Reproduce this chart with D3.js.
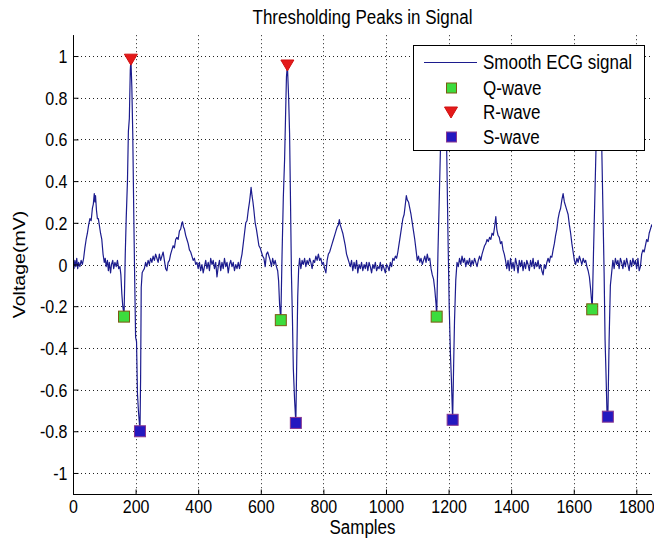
<!DOCTYPE html>
<html>
<head>
<meta charset="utf-8">
<script src="https://cdn.jsdelivr.net/npm/d3@7"></script>
<style>
  html, body { margin: 0; padding: 0; background: #fff; }
  svg { display: block; }
  text { font-family: Arial, "Liberation Sans", sans-serif; fill: #000; }
</style>
</head>
<body>
<svg id="chart" width="654" height="540"></svg>
<script>
// ---- data (sample index, voltage in mV) ----
const ecgSignal = [
  [0,0.01],[3,-0.02],[6,0.02],[9,-0.01],[12,0.03],[15,-0.02],[18,0.01],[22,-0.01],[26,0.02],[30,0.00],
  [34,0.03],[38,0.08],[42,0.12],[46,0.15],[50,0.19],[54,0.22],[58,0.21],[62,0.27],[65,0.29],[68,0.34],
  [70,0.30],[72,0.33],[75,0.26],[78,0.22],[81,0.22],[84,0.19],[88,0.15],[92,0.12],[96,0.05],[100,0.01],
  [103,0.03],[106,-0.01],[110,0.02],[113,-0.03],[116,0.01],[120,-0.04],[123,0.00],[127,0.02],[130,-0.02],
  [134,0.01],[138,-0.01],[142,0.02],[146,-0.02],[150,-0.01],[153,-0.05],[156,-0.14],[159,-0.20],[161,-0.22],
  [163,-0.25],[167,0.05],[170,0.22],[174,0.40],[177,0.64],[180,0.70],[183,0.93],[185,0.985],[188,0.85],
  [191,0.62],[194,0.26],[197,-0.06],[200,-0.35],[203,-0.37],[206,-0.62],[209,-0.70],[214,-0.80],[216,-0.55],
  [218,-0.11],[221,-0.04],[224,-0.03],[228,-0.02],[232,0.01],[236,-0.01],[240,0.02],[244,0.00],[248,0.03],
  [252,0.01],[256,0.04],[260,0.02],[264,0.05],[268,0.03],[272,0.01],[276,0.05],[280,0.02],[284,0.04],
  [288,0.06],[292,0.02],[296,-0.02],[300,-0.03],[304,0.01],[308,0.02],[312,0.05],[316,0.07],[320,0.09],
  [324,0.08],[328,0.12],[332,0.13],[336,0.12],[340,0.16],[344,0.17],[348,0.20],[350,0.205],[353,0.18],
  [356,0.17],[360,0.14],[364,0.12],[368,0.10],[372,0.07],[376,0.06],[380,0.04],[384,0.02],[388,0.03],
  [392,0.00],[396,0.01],[400,-0.02],[404,0.01],[408,-0.03],[412,0.00],[416,-0.04],[420,-0.01],[424,0.02],
  [428,-0.02],[432,0.01],[436,-0.03],[440,0.03],[444,0.00],[448,0.02],[452,-0.02],[456,0.01],[460,-0.06],
  [464,-0.01],[468,0.02],[472,-0.03],[476,0.01],[480,-0.02],[484,0.03],[488,-0.01],[492,0.01],[496,-0.04],
  [500,0.00],[504,0.02],[508,-0.01],[512,0.01],[516,-0.03],[520,0.00],[524,-0.02],[528,0.01],[532,-0.02],
  [536,0.02],[540,0.05],[544,0.10],[548,0.15],[552,0.20],[556,0.21],[560,0.26],[564,0.30],[567,0.34],
  [569,0.37],[572,0.33],[575,0.30],[578,0.26],[582,0.20],[586,0.17],[590,0.13],[594,0.09],[598,0.08],
  [602,0.06],[606,0.04],[610,0.03],[614,-0.01],[618,0.05],[622,0.06],[626,0.04],[630,0.02],[634,-0.01],
  [638,0.03],[642,0.00],[646,0.02],[650,-0.01],[654,-0.03],[657,-0.08],[660,-0.19],[664,-0.267],
  [668,0.05],[672,0.32],[676,0.50],[679,0.70],[682,0.90],[685,0.957],[689,0.80],[692,0.63],[695,0.30],
  [698,-0.05],[701,-0.25],[704,-0.50],[708,-0.65],[712,-0.76],[715,-0.45],[718,-0.155],[721,-0.02],
  [724,0.03],[728,-0.02],[732,0.02],[736,0.00],[740,0.03],[744,-0.01],[748,0.02],[752,0.00],[756,0.03],
  [760,0.01],[764,-0.02],[768,0.02],[772,0.01],[776,0.04],[780,0.02],[784,0.05],[788,0.02],[792,0.03],
  [796,0.00],[800,0.01],[804,-0.02],[808,-0.04],[812,0.02],[816,0.05],[820,0.06],[824,0.08],[828,0.10],
  [832,0.12],[836,0.14],[840,0.16],[844,0.18],[848,0.19],[851,0.215],[854,0.19],[858,0.17],[862,0.15],
  [866,0.12],[870,0.09],[874,0.05],[878,0.03],[882,0.01],[886,-0.01],[890,0.02],[894,-0.03],[898,0.01],
  [902,-0.02],[906,0.02],[910,-0.04],[914,0.00],[918,-0.02],[922,0.01],[926,-0.03],[930,0.00],[934,-0.02],
  [938,0.01],[942,-0.03],[946,0.01],[950,-0.01],[954,-0.04],[958,0.00],[962,-0.02],[966,0.01],[970,-0.03],
  [974,-0.01],[978,-0.02],[982,0.01],[986,-0.03],[990,0.00],[994,-0.02],[998,-0.04],[1002,0.00],[1006,-0.01],
  [1010,-0.03],[1014,0.01],[1018,-0.01],[1022,0.03],[1026,0.02],[1030,0.04],[1034,0.03],[1038,0.06],
  [1042,0.10],[1046,0.14],[1050,0.18],[1054,0.22],[1058,0.24],[1062,0.29],[1065,0.33],[1068,0.31],
  [1072,0.30],[1076,0.27],[1080,0.24],[1084,0.20],[1088,0.16],[1092,0.12],[1096,0.07],[1100,0.02],
  [1104,0.04],[1108,0.01],[1112,0.03],[1116,0.00],[1120,0.02],[1124,0.04],[1128,0.01],[1132,0.05],
  [1136,0.02],[1140,0.03],[1144,-0.02],[1148,-0.05],[1152,-0.07],[1156,-0.12],[1160,-0.19],[1162,-0.25],
  [1166,0.05],[1170,0.30],[1174,0.55],[1178,0.78],[1182,0.93],[1186,0.97],[1190,0.85],[1194,0.55],
  [1198,0.15],[1202,-0.20],[1206,-0.43],[1209,-0.55],[1213,-0.745],[1216,-0.50],[1219,-0.27],[1223,-0.075],
  [1227,0.01],[1231,-0.01],[1235,0.03],[1239,0.00],[1243,0.04],[1247,0.01],[1251,0.03],[1255,-0.01],
  [1259,0.02],[1263,0.00],[1267,0.03],[1271,-0.01],[1275,0.02],[1279,0.00],[1283,0.03],[1287,0.01],
  [1291,-0.01],[1295,0.02],[1299,0.04],[1303,0.02],[1307,0.05],[1311,0.07],[1315,0.09],[1319,0.10],
  [1323,0.12],[1327,0.11],[1331,0.13],[1335,0.12],[1339,0.15],[1343,0.14],[1347,0.18],[1351,0.23],
  [1354,0.17],[1358,0.14],[1362,0.13],[1366,0.10],[1370,0.11],[1374,0.07],[1378,0.05],[1382,0.02],
  [1386,-0.02],[1390,0.02],[1394,-0.03],[1398,0.03],[1402,-0.02],[1406,0.01],[1410,-0.03],[1414,0.03],
  [1418,0.00],[1422,-0.04],[1426,0.02],[1430,-0.01],[1434,0.02],[1438,-0.03],[1442,0.01],[1446,-0.02],
  [1450,0.02],[1454,0.00],[1458,-0.03],[1462,0.02],[1466,-0.01],[1470,0.03],[1474,-0.02],[1478,0.01],
  [1482,-0.01],[1486,0.02],[1490,-0.02],[1494,0.00],[1498,-0.03],[1502,-0.05],[1506,0.00],[1510,-0.02],
  [1514,0.01],[1518,0.03],[1522,0.01],[1526,0.04],[1530,0.035],[1534,0.07],[1538,0.10],[1542,0.14],
  [1546,0.17],[1550,0.22],[1554,0.25],[1558,0.27],[1562,0.31],[1566,0.34],[1570,0.30],[1574,0.28],
  [1578,0.26],[1582,0.24],[1586,0.19],[1590,0.15],[1594,0.10],[1598,0.06],[1602,0.02],[1606,0.00],
  [1610,0.03],[1614,0.01],[1618,0.04],[1622,0.02],[1626,0.00],[1630,0.03],[1634,0.01],[1638,0.02],
  [1642,-0.01],[1646,-0.03],[1650,-0.06],[1654,-0.12],[1659,-0.215],[1663,0.05],[1667,0.30],[1671,0.55],
  [1675,0.80],[1679,0.94],[1683,0.97],[1687,0.80],[1690,0.52],[1694,0.20],[1697,-0.04],[1700,-0.36],
  [1703,-0.52],[1706,-0.70],[1709,-0.73],[1713,-0.36],[1717,-0.10],[1721,-0.04],[1725,0.02],[1729,-0.02],
  [1733,0.03],[1737,0.00],[1741,0.02],[1745,-0.02],[1749,0.03],[1753,0.01],[1757,-0.02],[1761,0.02],
  [1765,-0.01],[1769,0.03],[1773,0.00],[1777,-0.03],[1781,0.02],[1785,-0.01],[1789,0.03],[1793,0.00],
  [1797,0.02],[1801,-0.02],[1805,0.03],[1809,-0.03],[1813,-0.01],[1817,0.05],[1821,0.07],[1825,0.06],
  [1829,0.09],[1833,0.12],[1837,0.11],[1841,0.15],[1845,0.17],[1849,0.19],[1852,0.18]
];

const qSamples = [163, 664, 1162, 1659];
const qValues  = [-0.25, -0.267, -0.25, -0.215];
const rSamples = [185, 685, 1186, 1683];
const rValues  = [0.985, 0.957, 0.97, 0.97];
const sSamples = [214, 712, 1213, 1709];
const sValues  = [-0.80, -0.76, -0.745, -0.73];

const xTicks = [0, 200, 400, 600, 800, 1000, 1200, 1400, 1600, 1800];
const yTicks = [-1, -0.8, -0.6, -0.4, -0.2, 0, 0.2, 0.4, 0.6, 0.8, 1];
const xDomain = [0, 1850];
const yDomain = [-1.1, 1.1];

const titleText = "Thresholding Peaks in Signal";
const xLabelText = "Samples";
const yLabelText = "Voltage(mV)";
const legendLabels = ["Smooth ECG signal", "Q-wave", "R-wave", "S-wave"];

// ---- layout ----
const W = 654, H = 540;
const m = { left: 73, right: 2, top: 35.2, bottom: 46.2 };
const pw = W - m.left - m.right, ph = H - m.top - m.bottom;
const FS = 17;          // label font size (horizontal metric)
const TFS = 16;         // tick label font size
const VS = 1.15;        // vertical stretch of text in the reference

const svg = d3.select("#chart");
const x = d3.scaleLinear().domain(xDomain).range([m.left, m.left + pw]);
const y = d3.scaleLinear().domain(yDomain).range([m.top + ph, m.top]);

const lineColor = "#1c1c8e";
const qFill = "#3ddc3d", qEdge = "#7a5a12";
const rFill = "#e41a1a", rEdge = "#d01010";
const sFill = "#2418c0", sEdge = "#8a3890";

const fmt = v => String(v).replace("\u2212", "-");

svg.append("defs").append("clipPath").attr("id", "plotclip")
  .append("rect").attr("x", m.left).attr("y", m.top).attr("width", pw).attr("height", ph);

// grid
const grid = svg.append("g").attr("stroke", "#222").attr("stroke-width", 1).attr("stroke-dasharray", "1,3");
xTicks.forEach(t => {
  const xx = Math.round(x(t)) + 0.5;
  grid.append("line").attr("x1", xx).attr("x2", xx).attr("y1", m.top).attr("y2", m.top + ph);
});
yTicks.forEach(t => {
  const yy = Math.round(y(t)) + 0.5;
  grid.append("line").attr("x1", m.left).attr("x2", m.left + pw).attr("y1", yy).attr("y2", yy);
});

// signal
const line = d3.line().x(d => x(d[0])).y(d => y(d[1]));
svg.append("path").datum(ecgSignal)
  .attr("clip-path", "url(#plotclip)")
  .attr("d", line).attr("fill", "none").attr("stroke", lineColor).attr("stroke-width", 1.2)
  .attr("stroke-linejoin", "round");

// markers
const sq = 11;
const markers = svg.append("g");
qSamples.forEach((s, i) => {
  markers.append("rect").attr("x", x(s) - sq / 2).attr("y", y(qValues[i]) - sq / 2)
    .attr("width", sq).attr("height", sq).attr("fill", qFill).attr("stroke", qEdge).attr("stroke-width", 1);
});
const tri = (cx, cy) => `M${cx - 6.5},${cy - 5} L${cx + 6.5},${cy - 5} L${cx},${cy + 6} Z`;
rSamples.forEach((s, i) => {
  markers.append("path").attr("d", tri(x(s), y(rValues[i])))
    .attr("fill", rFill).attr("stroke", rEdge).attr("stroke-width", 1);
});
sSamples.forEach((s, i) => {
  markers.append("rect").attr("x", x(s) - sq / 2).attr("y", y(sValues[i]) - sq / 2)
    .attr("width", sq).attr("height", sq).attr("fill", sFill).attr("stroke", sEdge).attr("stroke-width", 1);
});

// axes
const xAxis = d3.axisBottom(x).tickValues(xTicks).tickSize(-5).tickFormat(d => fmt(d));
const yAxis = d3.axisLeft(y).tickValues(yTicks).tickSize(-5).tickFormat(d => fmt(d));
const gx = svg.append("g").attr("transform", `translate(0,${Math.round(m.top + ph) + 0.5})`).call(xAxis);
const gy = svg.append("g").attr("transform", `translate(${Math.round(m.left) + 0.5},0)`).call(yAxis);
[gx, gy].forEach(g => {
  g.select(".domain").attr("stroke", "#000").attr("stroke-width", 1);
  g.selectAll(".tick line").attr("stroke", "#000");
  g.selectAll(".tick text").attr("font-size", TFS).attr("font-family", "Arial, 'Liberation Sans', sans-serif")
    .attr("fill", "#000").attr("x", 0).attr("y", 0).attr("dy", null);
});
gx.selectAll(".tick text").attr("text-anchor", "middle").attr("transform", `translate(0,18) scale(1,${VS})`);
gy.selectAll(".tick text").attr("text-anchor", "end").attr("transform", `translate(-6,6.5) scale(1,${VS})`);
gy.select(".domain").attr("d", `M0,${m.top}V${m.top + ph}`);
gx.select(".domain").attr("d", `M${m.left},0H${m.left + pw}`);

// titles
const stretchText = (px, py, str, anchor) =>
  svg.append("text").attr("transform", `translate(${px},${py}) scale(1,${VS})`)
    .attr("text-anchor", anchor).attr("font-size", FS).text(str);
stretchText(m.left + pw / 2, 24, titleText, "middle");
stretchText(m.left + pw / 2, 534, xLabelText, "middle");
svg.append("text").attr("transform", `translate(25,${y(0)}) rotate(-90) scale(${VS},1)`)
  .attr("text-anchor", "middle").attr("font-size", FS).text(yLabelText);

// legend
const lg = svg.append("g");
lg.append("rect").attr("x", 413.5).attr("y", 45.5).attr("width", 231).attr("height", 105)
  .attr("fill", "#fff").attr("stroke", "#000").attr("stroke-width", 1);
const rows = [62, 88, 112, 137];
lg.append("line").attr("x1", 424).attr("x2", 477).attr("y1", rows[0] + 0.5).attr("y2", rows[0] + 0.5)
  .attr("stroke", lineColor).attr("stroke-width", 1.2);
lg.append("rect").attr("x", 451.5 - 5).attr("y", rows[1] - 5).attr("width", 10).attr("height", 10)
  .attr("fill", qFill).attr("stroke", qEdge);
lg.append("path").attr("d", tri(451, rows[2])).attr("fill", rFill).attr("stroke", rEdge);
lg.append("rect").attr("x", 451.5 - 5).attr("y", rows[3] - 5).attr("width", 10).attr("height", 10)
  .attr("fill", sFill).attr("stroke", sEdge);
legendLabels.forEach((t, i) => {
  lg.append("text").attr("transform", `translate(483,${rows[i] + 7}) scale(1,${VS})`)
    .attr("font-size", FS).text(t);
});
</script>
</body>
</html>
